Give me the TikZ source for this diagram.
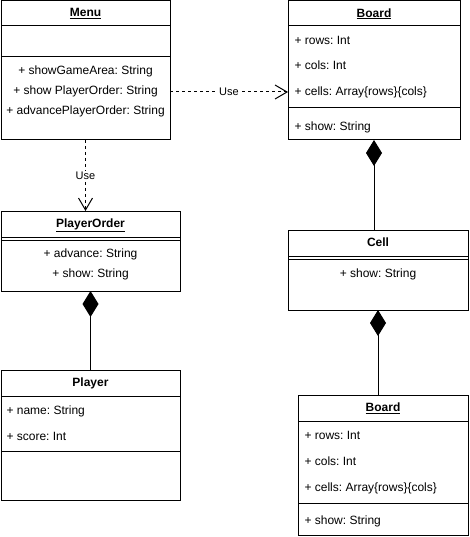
\documentclass[tikz,border=0pt]{standalone}
\usepackage{fontspec}
\setmainfont{Liberation Sans}
\usetikzlibrary{positioning,arrows.meta}
\frenchspacing

\tikzset{
  compart/.style={draw, rectangle, inner sep=0pt, outer sep=0pt},
  head/.style={compart, anchor=north west, text depth=1.5pt, font=\fontsize{12}{14}\selectfont\bfseries},
  member/.style={inner sep=0pt, text height=9pt, text depth=2.5pt, font=\fontsize{12}{14}\selectfont},
  uselabel/.style={fill=white, inner sep=1pt, font=\fontsize{11}{13}\selectfont},
  use/.style={dashed, -{Straight Barb[length=12pt, width=14pt]}},
  comp/.style={{Diamond[length=26pt, width=16pt]}-}
}

\begin{document}
\begin{tikzpicture}[x=1pt, y=-1pt, line width=1pt]
    \useasboundingbox (0,0) rectangle (469,537);

    % Menu
    \node (menu) [head, minimum width=169pt, minimum height=25pt] at (1,1) {\underline{Menu}};
    \node (menuattr) [compart, minimum width=169pt, minimum height=31pt, below=0pt of menu] {};
    \node (menuops) [compart, minimum width=169pt, minimum height=83pt, below=0pt of menuattr] {};
    \node (m1) [member] at (85.5,71) {+ showGameArea: String};
    \node (m2) [member] at (85.5,91) {+ show PlayerOrder: String};
    \node (m3) [member] at (85.5,111) {+ advancePlayerOrder: String};

    % Board (top)
    \node (board) [head, minimum width=172pt, minimum height=25pt] at (288,1) {\underline{Board}};
    \node (boardattr) [compart, minimum width=172pt, minimum height=82pt, below=0pt of board] {};
    \node (boardops) [compart, minimum width=172pt, minimum height=32pt, below=0pt of boardattr] {};
    \node (brows) [member, anchor=west] at (294,41) {+ rows: Int};
    \node (bcols) [member, anchor=west] at (294,66) {+ cols: Int};
    \node (bcells) [member, anchor=west] at (294,92) {+ cells: Array\{rows\}\{cols\}};
    \node (bshow) [member, anchor=west] at (294,127) {+ show: String};

    % PlayerOrder
    \node (porder) [head, minimum width=179pt, minimum height=26pt] at (1,211) {\underline{PlayerOrder}};
    \node (pordersep) [compart, minimum width=179pt, minimum height=3pt, below=0pt of porder] {};
    \node (porderops) [compart, minimum width=179pt, minimum height=51pt, below=0pt of pordersep] {};
    \node (padv) [member] at (90.5,254) {+ advance: String};
    \node (pshow) [member] at (90.5,274) {+ show: String};

    % Player
    \node (player) [head, minimum width=179pt, minimum height=26pt] at (1,370) {Player};
    \node (playerattr) [compart, minimum width=179pt, minimum height=55pt, below=0pt of player] {};
    \node (playerops) [compart, minimum width=179pt, minimum height=49pt, below=0pt of playerattr] {};
    \node (plname) [member, anchor=west] at (6,411) {+ name: String};
    \node (plscore) [member, anchor=west] at (6,437) {+ score: Int};

    % Cell
    \node (cell) [head, minimum width=180pt, minimum height=26pt] at (288,230) {Cell};
    \node (cellsep) [compart, minimum width=180pt, minimum height=3pt, below=0pt of cell] {};
    \node (cellops) [compart, minimum width=180pt, minimum height=51pt, below=0pt of cellsep] {};
    \node (cshow) [member] at (378,274) {+ show: String};

    % Board (bottom)
    \node (board2) [head, minimum width=170pt, minimum height=26pt] at (298,395) {\underline{Board}};
    \node (board2attr) [compart, minimum width=170pt, minimum height=82pt, below=0pt of board2] {};
    \node (board2ops) [compart, minimum width=170pt, minimum height=32pt, below=0pt of board2attr] {};
    \node (b2rows) [member, anchor=west] at (304,436) {+ rows: Int};
    \node (b2cols) [member, anchor=west] at (304,462) {+ cols: Int};
    \node (b2cells) [member, anchor=west] at (304,488) {+ cells: Array\{rows\}\{cols\}};
    \node (b2show) [member, anchor=west] at (304,521) {+ show: String};

    % connectors
    \draw[use] (menuops.east |- bcells) -- node[uselabel]{Use} (board.west |- bcells);
    \draw[use] (menuops.south) -- node[uselabel]{Use} (menuops.south |- porder.north);
    \draw[comp] (porderops.south) -- (player.north);
    \draw[comp] (boardops.south) -- (boardops.south |- cell.north);
    \draw[comp] (cellops.south) -- (cellops.south |- board2.north);
\end{tikzpicture}
\end{document}
